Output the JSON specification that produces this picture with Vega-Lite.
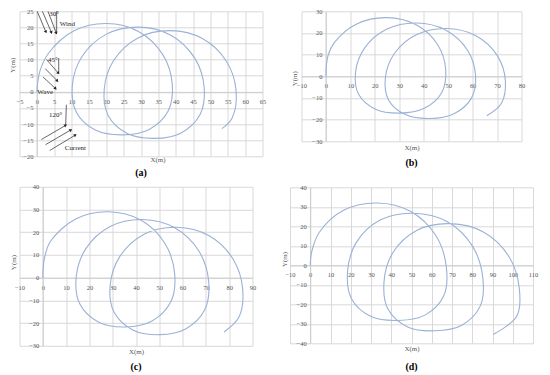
{
  "$schema": "https://vega.github.io/schema/vega-lite/v6.json",
  "background": "white",
  "padding": {"left": 8.5, "top": 8.3, "right": 2, "bottom": 2},
  "config": {
    "view": {"stroke": null},
    "axis": {
      "labelFont": "Liberation Serif", "labelFontSize": 6.5, "labelColor": "#595959",
      "titleFont": "Liberation Serif", "titleFontSize": 7, "titleFontWeight": "normal", "titleColor": "#595959",
      "grid": true, "gridColor": "#d9d9d9", "gridWidth": 1, "domainColor": "#c8c8c8", "domainWidth": 0.8,
      "ticks": false, "labelFlush": false, "labelOverlap": false, "labelBound": false
    },
    "axisX": {"labelPadding": 6.5},
    "axisY": {"labelPadding": 4},
    "title": {"font": "Liberation Serif", "fontSize": 10, "fontWeight": "bold", "color": "#000000", "orient": "bottom", "anchor": "middle"}
  },
  "datasets": {
    "a": [
      {"i":0,"x":0,"y":0},{"i":1,"x":0.25,"y":3.0},{"i":2,"x":0.9,"y":6.5},{"i":3,"x":3.3,"y":11.9},
      {"i":4,"x":10.72,"y":18.94},{"i":5,"x":20.0,"y":21.2},{"i":6,"x":29.28,"y":18.75},{"i":7,"x":36.28,"y":11.56},
      {"i":8,"x":39.0,"y":2.43},{"i":9,"x":37.82,"y":-5.96},{"i":10,"x":32.35,"y":-11.65},{"i":11,"x":24.6,"y":-13.35},
      {"i":12,"x":16.85,"y":-11.84},{"i":13,"x":11.38,"y":-6.33},{"i":14,"x":10.2,"y":1.88},{"i":15,"x":12.92,"y":10.83},
      {"i":16,"x":19.92,"y":17.84},{"i":17,"x":29.2,"y":20.1},{"i":18,"x":38.48,"y":17.65},{"i":19,"x":45.48,"y":10.46},
      {"i":20,"x":48.2,"y":1.33},{"i":21,"x":47.02,"y":-7.06},{"i":22,"x":41.55,"y":-12.75},{"i":23,"x":33.8,"y":-14.45},
      {"i":24,"x":26.05,"y":-12.94},{"i":25,"x":20.58,"y":-7.43},{"i":26,"x":19.4,"y":0.78},{"i":27,"x":22.12,"y":9.73},
      {"i":28,"x":29.12,"y":16.74},{"i":29,"x":38.4,"y":19.0},{"i":30,"x":47.68,"y":16.55},{"i":31,"x":54.68,"y":9.36},
      {"i":32,"x":57.4,"y":0.23},{"i":33,"x":56.22,"y":-8.16},{"i":34,"x":53.3,"y":-11.4}
    ],
    "b": [
      {"i":0,"x":0,"y":0},{"i":1,"x":0.15,"y":4.5},{"i":2,"x":0.9,"y":9.8},{"i":3,"x":3.6,"y":15.8},
      {"i":4,"x":12.77,"y":24.28},{"i":5,"x":24.8,"y":27.08},{"i":6,"x":36.74,"y":23.87},{"i":7,"x":45.65,"y":14.67},
      {"i":8,"x":49.0,"y":3.05},{"i":9,"x":47.33,"y":-7.57},{"i":10,"x":40.2,"y":-14.77},{"i":11,"x":30.2,"y":-16.98},
      {"i":12,"x":20.3,"y":-15.18},{"i":13,"x":13.42,"y":-8.41},{"i":14,"x":12.1,"y":1.8},{"i":15,"x":15.8,"y":13.01},
      {"i":16,"x":24.97,"y":21.78},{"i":17,"x":37.0,"y":24.58},{"i":18,"x":48.94,"y":21.37},{"i":19,"x":57.85,"y":12.17},
      {"i":20,"x":61.2,"y":0.55},{"i":21,"x":59.53,"y":-10.07},{"i":22,"x":52.4,"y":-17.27},{"i":23,"x":42.4,"y":-19.48},
      {"i":24,"x":32.5,"y":-17.68},{"i":25,"x":25.62,"y":-10.91},{"i":26,"x":24.3,"y":-0.7},{"i":27,"x":28.0,"y":10.51},
      {"i":28,"x":37.17,"y":19.28},{"i":29,"x":49.2,"y":22.08},{"i":30,"x":61.14,"y":18.87},{"i":31,"x":70.05,"y":9.67},
      {"i":32,"x":73.4,"y":-1.95},{"i":33,"x":71.73,"y":-12.57},{"i":34,"x":65.8,"y":-18.2}
    ],
    "c": [
      {"i":0,"x":0,"y":0},{"i":1,"x":0.15,"y":3.8},{"i":2,"x":0.7,"y":8.5},{"i":3,"x":3.3,"y":16.0},
      {"i":4,"x":14.29,"y":25.92},{"i":5,"x":28.15,"y":29.0},{"i":6,"x":42.02,"y":25.36},{"i":7,"x":52.49,"y":14.93},
      {"i":8,"x":56.6,"y":1.65},{"i":9,"x":54.93,"y":-10.63},{"i":10,"x":46.88,"y":-19.06},{"i":11,"x":35.45,"y":-21.7},
      {"i":12,"x":24.02,"y":-19.62},{"i":13,"x":15.97,"y":-11.76},{"i":14,"x":14.3,"y":-0.05},{"i":15,"x":18.41,"y":12.66},
      {"i":16,"x":28.89,"y":22.52},{"i":17,"x":42.75,"y":25.6},{"i":18,"x":56.62,"y":21.96},{"i":19,"x":67.09,"y":11.53},
      {"i":20,"x":71.2,"y":-1.75},{"i":21,"x":69.53,"y":-14.03},{"i":22,"x":61.48,"y":-22.46},{"i":23,"x":50.05,"y":-25.1},
      {"i":24,"x":38.62,"y":-23.02},{"i":25,"x":30.57,"y":-15.16},{"i":26,"x":28.9,"y":-3.45},{"i":27,"x":33.01,"y":9.26},
      {"i":28,"x":43.49,"y":19.12},{"i":29,"x":57.35,"y":22.2},{"i":30,"x":71.22,"y":18.56},{"i":31,"x":81.69,"y":8.13},
      {"i":32,"x":85.8,"y":-5.15},{"i":33,"x":84.13,"y":-17.43},{"i":34,"x":77.8,"y":-23.9}
    ],
    "d": [
      {"i":0,"x":0,"y":0},{"i":1,"x":0.2,"y":3.6},{"i":2,"x":0.8,"y":7.3},{"i":3,"x":4.4,"y":16.8},
      {"i":4,"x":16.7,"y":28.3},{"i":5,"x":33.0,"y":31.98},{"i":6,"x":49.49,"y":27.72},{"i":7,"x":62.18,"y":15.02},
      {"i":8,"x":67.2,"y":-0.95},{"i":9,"x":65.98,"y":-15.52},{"i":10,"x":56.87,"y":-25.42},{"i":11,"x":43.6,"y":-28.28},
      {"i":12,"x":30.11,"y":-26.31},{"i":13,"x":20.42,"y":-17.29},{"i":14,"x":18.4,"y":-3.6},{"i":15,"x":22.62,"y":11.49},
      {"i":16,"x":34.73,"y":23.31},{"i":17,"x":51.0,"y":26.68},{"i":18,"x":67.49,"y":22.42},{"i":19,"x":80.18,"y":9.72},
      {"i":20,"x":85.2,"y":-6.25},{"i":21,"x":83.98,"y":-20.82},{"i":22,"x":74.87,"y":-30.72},{"i":23,"x":61.6,"y":-33.58},
      {"i":24,"x":48.11,"y":-31.61},{"i":25,"x":38.42,"y":-22.59},{"i":26,"x":36.4,"y":-8.9},{"i":27,"x":40.62,"y":6.19},
      {"i":28,"x":52.73,"y":18.01},{"i":29,"x":69.0,"y":21.38},{"i":30,"x":85.49,"y":17.12},{"i":31,"x":98.18,"y":4.42},
      {"i":32,"x":103.2,"y":-11.55},{"i":33,"x":101.98,"y":-26.12},{"i":34,"x":90.3,"y":-35.5}
    ],
    "arrows": [
      {"g":"wind","x":0.1,"y":25,"x2":2.6,"y2":18.6},
      {"g":"wind","x":1.6,"y":25,"x2":4.2,"y2":18.4},
      {"g":"wind","x":3.2,"y":25,"x2":5.6,"y2":18.2},
      {"g":"ref","x":5.7,"y":25,"x2":5.7,"y2":18.2},
      {"g":"wave","x":2.8,"y":10,"x2":6.2,"y2":5.8},
      {"g":"wave","x":2.4,"y":7.2,"x2":5.9,"y2":3.4},
      {"g":"wave","x":1.8,"y":4.6,"x2":5.4,"y2":1.0},
      {"g":"ref","x":6.3,"y":10.5,"x2":6.3,"y2":5.8},
      {"g":"current","x":1.3,"y":-14.8,"x2":8.3,"y2":-10.4},
      {"g":"current","x":2.5,"y":-16.4,"x2":9.8,"y2":-11.8},
      {"g":"current","x":3.7,"y":-18.2,"x2":11.1,"y2":-13.4},
      {"g":"ref","x":8.5,"y":-4,"x2":8.3,"y2":-10.4}
    ],
    "heads": [
      {"g":"wind","x":2.6,"y":18.6},{"g":"wind","x":4.2,"y":18.4},{"g":"wind","x":5.6,"y":18.2},
      {"g":"wave","x":6.2,"y":5.8},{"g":"wave","x":5.9,"y":3.4},{"g":"wave","x":5.4,"y":1.0},
      {"g":"current","x":8.3,"y":-10.4},{"g":"current","x":9.8,"y":-11.8},{"g":"current","x":11.1,"y":-13.4}
    ],
    "notes": [
      {"label":"30°","x":5.0,"y":24.3},
      {"label":"Wind","x":8.8,"y":21.0},
      {"label":"45°","x":4.6,"y":10.0},
      {"label":"Wave","x":2.4,"y":-0.2},
      {"label":"120°","x":5.4,"y":-7.1},
      {"label":"Current","x":11.1,"y":-17.5}
    ]
  },
  "spacing": 14.5,
  "hconcat": [
    {
      "spacing": 30.5,
      "bounds": "flush",
      "vconcat": [
        {
          "width": 243, "height": 145,
          "title": {"text": "(a)", "offset": 5},
          "encoding": {
            "x": {"field": "x", "type": "quantitative", "scale": {"domain": [-5, 65], "nice": false, "zero": false},
                  "axis": {"title": "X(m)", "values": [-5,0,5,10,15,20,25,30,35,40,45,50,55,60,65], "labelOverlap": false, "offset": -64.4, "titleY": 67.8, "titleX": 138, "titleBaseline": "middle"}},
            "y": {"field": "y", "type": "quantitative", "scale": {"domain": [-20, 25], "nice": false, "zero": false},
                  "axis": {"title": "Y(m)", "values": [-20,-15,-10,-5,0,5,10,15,20,25], "labelOverlap": false, "offset": -17.4, "titleX": -24, "titleY": 53.4, "titleBaseline": "middle", "titleAlign": "center"}}
          },
          "layer": [
            {
              "data": {"name": "a"},
              "mark": {"type": "line", "interpolate": "catmull-rom", "color": "#9bb1d6", "strokeWidth": 1.1},
              "encoding": {"order": {"field": "i", "type": "quantitative"}}
            },
            {
              "data": {"name": "arrows"},
              "mark": {"type": "rule", "color": "#262626", "strokeWidth": 0.7},
              "encoding": {"x2": {"field": "x2"}, "y2": {"field": "y2"}}
            },
            {
              "data": {"name": "heads"},
              "transform": [{"filter": "datum.g == 'wind'"}],
              "mark": {"type": "point", "shape": "triangle-up", "angle": 158, "filled": true, "color": "#262626", "size": 12, "opacity": 1}
            },
            {
              "data": {"name": "heads"},
              "transform": [{"filter": "datum.g == 'wave'"}],
              "mark": {"type": "point", "shape": "triangle-up", "angle": 137, "filled": true, "color": "#262626", "size": 12, "opacity": 1}
            },
            {
              "data": {"name": "heads"},
              "transform": [{"filter": "datum.g == 'current'"}],
              "mark": {"type": "point", "shape": "triangle-up", "angle": 60, "filled": true, "color": "#262626", "size": 12, "opacity": 1}
            },
            {
              "data": {"name": "notes"},
              "mark": {"type": "text", "font": "Liberation Serif", "fontSize": 7, "color": "#262626"},
              "encoding": {"text": {"field": "label"}}
            }
          ]
        },
        {
          "width": 233, "height": 159,
          "title": {"text": "(c)", "offset": 8},
          "data": {"name": "c"},
          "mark": {"type": "line", "interpolate": "catmull-rom", "color": "#9bb1d6", "strokeWidth": 1.1},
          "encoding": {
            "x": {"field": "x", "type": "quantitative", "scale": {"domain": [-10, 90], "nice": false, "zero": false},
                  "axis": {"title": "X(m)", "values": [-10,0,10,20,30,40,50,60,70,80,90], "offset": -68.1, "titleY": 73.4, "titleBaseline": "middle"}},
            "y": {"field": "y", "type": "quantitative", "scale": {"domain": [-30, 40], "nice": false, "zero": false},
                  "axis": {"title": "Y(m)", "values": [-30,-20,-10,0,10,20,30,40], "offset": -23.3, "titleX": -29, "titleY": 75.3, "titleBaseline": "middle", "titleAlign": "center"}},
            "order": {"field": "i", "type": "quantitative"}
          }
        }
      ]
    },
    {
      "spacing": 46,
      "bounds": "flush",
      "center": true,
      "vconcat": [
        {
          "width": 220, "height": 130,
          "title": {"text": "(b)", "offset": 7.5},
          "data": {"name": "b"},
          "mark": {"type": "line", "interpolate": "catmull-rom", "color": "#9bb1d6", "strokeWidth": 1.1},
          "encoding": {
            "x": {"field": "x", "type": "quantitative", "scale": {"domain": [-10, 80], "nice": false, "zero": false},
                  "axis": {"title": "X(m)", "values": [-10,0,10,20,30,40,50,60,70,80], "offset": -65, "titleY": 71, "titleBaseline": "middle"}},
            "y": {"field": "y", "type": "quantitative", "scale": {"domain": [-30, 30], "nice": false, "zero": false},
                  "axis": {"title": "Y(m)", "values": [-30,-20,-10,0,10,20,30], "offset": -24.4, "titleX": -31, "titleY": 67, "titleBaseline": "middle", "titleAlign": "center"}},
            "order": {"field": "i", "type": "quantitative"}
          }
        },
        {
          "width": 243, "height": 156,
          "title": {"text": "(d)", "offset": 10},
          "data": {"name": "d"},
          "mark": {"type": "line", "interpolate": "catmull-rom", "color": "#9bb1d6", "strokeWidth": 1.1},
          "encoding": {
            "x": {"field": "x", "type": "quantitative", "scale": {"domain": [-10, 110], "nice": false, "zero": false},
                  "axis": {"title": "X(m)", "values": [-10,0,10,20,30,40,50,60,70,80,90,100,110], "offset": -78, "titleY": 83.7, "titleBaseline": "middle"}},
            "y": {"field": "y", "type": "quantitative", "scale": {"domain": [-40, 40], "nice": false, "zero": false},
                  "axis": {"title": "Y(m)", "values": [-40,-30,-20,-10,0,10,20,30,40], "offset": -20.25, "titleX": -25.25, "titleY": 71.7, "titleBaseline": "middle", "titleAlign": "center"}},
            "order": {"field": "i", "type": "quantitative"}
          }
        }
      ]
    }
  ]
}
